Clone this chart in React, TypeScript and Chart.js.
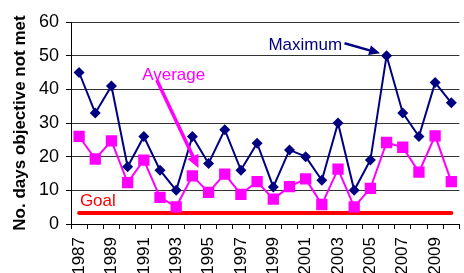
import React, { useEffect, useRef } from 'react';
import { Chart, registerables } from 'chart.js';

Chart.register(...registerables);

const YEARS = [
  '1987', '1988', '1989', '1990', '1991', '1992', '1993', '1994', '1995', '1996', '1997', '1998',
  '1999', '2000', '2001', '2002', '2003', '2004', '2005', '2006', '2007', '2008', '2009', '2010',
];
const MAXIMUM = [45, 33, 41, 17, 26, 16, 10, 26, 18, 28, 16, 24, 11, 22, 20, 13, 30, 10, 19, 50, 33, 26, 42, 36];
const AVERAGE = [26, 19.3, 24.7, 12.3, 19, 7.9, 5.1, 14.3, 9.4, 14.8, 8.8, 12.6, 7.4, 11.1, 13.4, 5.8, 16.3, 5.1, 10.6, 24.2, 22.8, 15.4, 26.2, 12.6];
const GOAL = 3.3;
const Y_MIN = 0;
const Y_MAX = 60;
const Y_STEP = 10;

const NAVY = '#000080';
const MAGENTA = '#FF00FF';
const RED = '#FF0000';
const FONT = '"Liberation Sans", Arial, sans-serif';

// annotation anchors in data coordinates (category index, value)
const LABELS = [
  { text: 'Maximum', x: 11.7, y: 53.2, color: NAVY },
  { text: 'Average', x: 3.9, y: 44.3, color: MAGENTA },
  { text: 'Goal', x: 0.05, y: 6.6, color: RED },
];
const ARROWS = [
  { x1: 16.4, y1: 53.7, x2: 18.6, y2: 50.7, color: NAVY, width: 2.5, head: 11, headW: 5 },
  { x1: 4.8, y1: 42.8, x2: 7.38, y2: 16.6, color: MAGENTA, width: 3.5, head: 13, headW: 6 },
];

const annotationPlugin = {
  id: 'annotations',
  afterDatasetsDraw(chart: any) {
    const { ctx } = chart;
    const xs = chart.scales.x;
    const ys = chart.scales.y;
    ctx.save();
    ctx.font = `17px ${FONT}`;
    ctx.textBaseline = 'middle';
    ctx.textAlign = 'left';
    for (const l of LABELS) {
      ctx.fillStyle = l.color;
      ctx.fillText(l.text, xs.getPixelForValue(l.x), ys.getPixelForValue(l.y));
    }
    for (const a of ARROWS) {
      const x1 = xs.getPixelForValue(a.x1);
      const y1 = ys.getPixelForValue(a.y1);
      const x2 = xs.getPixelForValue(a.x2);
      const y2 = ys.getPixelForValue(a.y2);
      const ang = Math.atan2(y2 - y1, x2 - x1);
      const bx = x2 - Math.cos(ang) * a.head;
      const by = y2 - Math.sin(ang) * a.head;
      ctx.strokeStyle = a.color;
      ctx.fillStyle = a.color;
      ctx.lineWidth = a.width;
      ctx.beginPath();
      ctx.moveTo(x1, y1);
      ctx.lineTo(bx + Math.cos(ang) * 2, by + Math.sin(ang) * 2);
      ctx.stroke();
      ctx.beginPath();
      ctx.moveTo(x2, y2);
      ctx.lineTo(bx + Math.sin(ang) * a.headW, by - Math.cos(ang) * a.headW);
      ctx.lineTo(bx - Math.sin(ang) * a.headW, by + Math.cos(ang) * a.headW);
      ctx.closePath();
      ctx.fill();
    }
    ctx.restore();
  },
};

export default function App() {
  const ref = useRef<HTMLCanvasElement | null>(null);

  useEffect(() => {
    if (!ref.current) return;
    const chart = new Chart(ref.current, {
      type: 'line',
      data: {
        labels: YEARS,
        datasets: [
          {
            label: 'Goal',
            data: YEARS.map(() => GOAL),
            borderColor: RED,
            borderWidth: 4,
            borderCapStyle: 'round',
            pointRadius: 0,
            fill: false,
            order: 3,
          },
          {
            label: 'Average',
            data: AVERAGE,
            borderColor: MAGENTA,
            backgroundColor: MAGENTA,
            borderWidth: 2,
            pointStyle: 'rect',
            pointRadius: 8,
            pointBorderWidth: 0,
            fill: false,
            order: 2,
          },
          {
            label: 'Maximum',
            data: MAXIMUM,
            borderColor: NAVY,
            backgroundColor: NAVY,
            borderWidth: 2,
            pointStyle: 'rectRot',
            pointRadius: 5.5,
            pointBorderWidth: 0,
            fill: false,
            order: 1,
          },
        ],
      },
      options: {
        responsive: false,
        animation: false,
        devicePixelRatio: 1,
        layout: { padding: { top: 22, right: 14, left: 0, bottom: 0 } },
        plugins: {
          legend: { display: false },
          tooltip: { enabled: false },
        },
        scales: {
          x: {
            offset: true,
            grid: {
              display: true,
              drawOnChartArea: false,
              drawTicks: true,
              tickLength: 5,
              offset: true,
              tickColor: '#000',
            },
            border: { display: true, color: '#000', width: 1 },
            ticks: {
              autoSkip: false,
              minRotation: 90,
              maxRotation: 90,
              padding: 8,
              color: '#000',
              font: { family: FONT, size: 17 },
              callback: (_v: any, i: number) => (i % 2 === 0 ? YEARS[i] : ''),
            },
            afterFit: (s: any) => {
              s.height = 49;
            },
          },
          y: {
            min: Y_MIN,
            max: Y_MAX,
            ticks: {
              stepSize: Y_STEP,
              padding: 7,
              color: '#000',
              font: { family: FONT, size: 18 },
            },
            grid: {
              color: '#333',
              lineWidth: 1,
              drawTicks: true,
              tickLength: 5,
              tickColor: '#000',
            },
            border: { display: true, color: '#000', width: 1 },
            title: {
              display: true,
              text: 'No. days objective not met',
              color: '#000',
              font: { family: FONT, size: 17, weight: 'bold' },
              padding: { top: 10, bottom: 0 },
            },
            afterFit: (s: any) => {
              s.width = 71;
            },
          },
        },
      },
      plugins: [annotationPlugin],
    } as any);
    return () => chart.destroy();
  }, []);

  return (
    <div
      style={{
        position: 'fixed',
        left: 0,
        top: 0,
        width: 464,
        height: 273,
        overflow: 'hidden',
        background: '#fff',
      }}
    >
      <canvas ref={ref} width={480} height={273} style={{ display: 'block' }} />
    </div>
  );
}
